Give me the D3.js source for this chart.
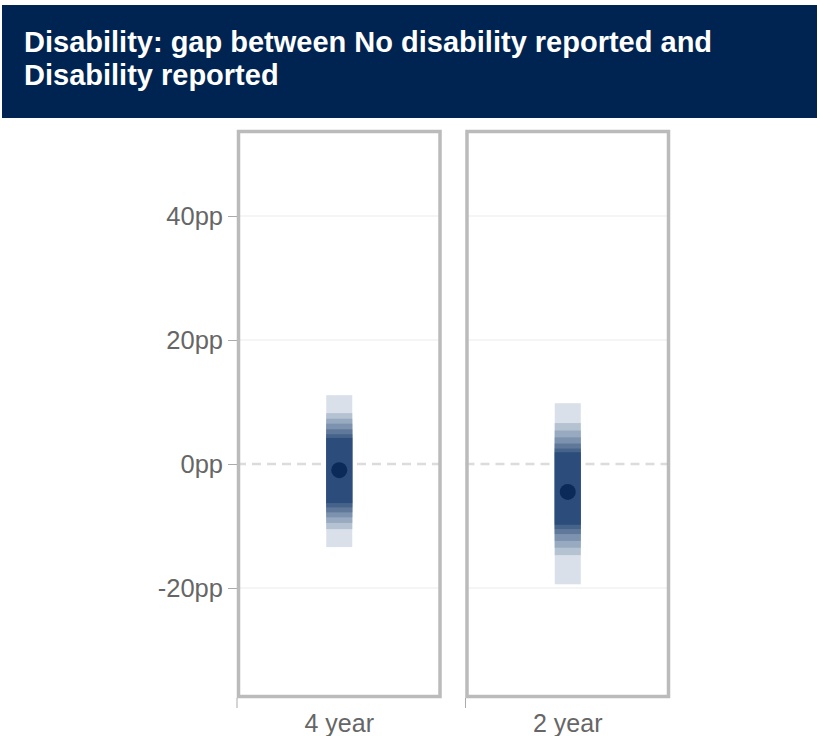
<!DOCTYPE html>
<html>
<head>
<meta charset="utf-8">
<script src="https://cdn.jsdelivr.net/npm/d3@7"></script>
<style>
  body { margin: 0; background: #fff; }
  svg { display: block; font-family: "Liberation Sans", Arial, sans-serif; }
</style>
</head>
<body>
<div id="chart"></div>
<script>
// panels and estimates (pp)
const periods = ['4 year', '2 year'];
const estimates = [-1.0, -4.5];
// interval bounds, outermost first
const lower = [
  [-13.4, -10.5, -9.5, -8.6, -7.8, -7.0, -6.3],
  [-19.4, -14.7, -13.5, -12.4, -11.3, -10.5, -9.8]
];
const upper = [
  [11.1, 8.2, 7.3, 6.5, 5.6, 4.8, 4.2],
  [9.8, 6.6, 5.4, 4.3, 3.3, 2.5, 1.9]
];
const yTicks = [-20, 0, 20, 40];
const bandColors = ['#d9e0e9', '#b4c2d2', '#98aac0', '#7c92ae', '#60799b', '#46638a', '#2c4c7c'];

const W = 820, H = 736;
const svg = d3.select('#chart').append('svg').attr('width', W).attr('height', H);

// title banner
svg.append('rect').attr('x', 2).attr('y', 5).attr('width', 815).attr('height', 113).attr('fill', '#002451');
const title = svg.append('text')
    .attr('fill', '#fff').attr('font-size', 29).attr('font-weight', 'bold');
title.append('tspan').attr('x', 24).attr('y', 52).text('Disability: gap between No disability reported and');
title.append('tspan').attr('x', 24).attr('y', 85).text('Disability reported');

const x = d3.scaleBand().domain(periods).range([237, 670]).paddingInner(0.105);
const y = d3.scaleLinear().domain([-37.5, 53.63]).range([696.5, 131.5]);

// gridlines
periods.forEach(p => {
  const g = svg.append('g');
  g.selectAll('line.grid')
    .data(yTicks.filter(t => t !== 0))
    .join('line')
    .attr('x1', x(p)).attr('x2', x(p) + x.bandwidth())
    .attr('y1', d => y(d)).attr('y2', d => y(d))
    .attr('stroke', '#ebebeb').attr('stroke-width', 1);
  g.append('line')
    .attr('x1', x(p)).attr('x2', x(p) + x.bandwidth())
    .attr('y1', y(0)).attr('y2', y(0))
    .attr('stroke', '#dcdcdc').attr('stroke-width', 2.5).attr('stroke-dasharray', '9,6');
});

// y axis
const yAxis = svg.append('g').attr('transform', `translate(${x(periods[0])},0)`)
    .call(d3.axisLeft(y).tickValues(yTicks).tickSize(9).tickPadding(5).tickFormat(d => d + 'pp'));
yAxis.select('.domain').remove();
yAxis.selectAll('line').attr('stroke', '#aaa');
yAxis.selectAll('text').attr('fill', '#666').attr('font-size', 25.5).attr('dy', '0.35em')
    .attr('font-family', '"Liberation Sans", Arial, sans-serif');

// intervals
periods.forEach((p, i) => {
  const cx = x(p) + x.bandwidth() / 2;
  svg.append('g').selectAll('rect')
    .data(lower[i].map((lo, k) => ({lo, hi: upper[i][k], k})))
    .join('rect')
    .attr('x', cx - 13).attr('width', 26)
    .attr('y', d => y(d.hi)).attr('height', d => y(d.lo) - y(d.hi))
    .attr('fill', d => bandColors[d.k]);
  svg.append('circle').attr('cx', cx).attr('cy', y(estimates[i])).attr('r', 8).attr('fill', '#0b2a5a');
});

// panel borders
svg.selectAll('rect.panel')
  .data(periods)
  .join('rect')
  .attr('class', 'panel')
  .attr('x', d => x(d) + 1.5).attr('y', 131.5)
  .attr('width', x.bandwidth() - 3).attr('height', 565)
  .attr('fill', 'none').attr('stroke', '#bbbbbb').attr('stroke-width', 3.5);

// bottom ticks and labels
svg.selectAll('line.xtick')
  .data(periods)
  .join('line')
  .attr('x1', d => x(d)).attr('x2', d => x(d))
  .attr('y1', 698).attr('y2', 708)
  .attr('stroke', '#aaa');
svg.selectAll('text.xlab')
  .data(periods)
  .join('text')
  .attr('x', d => x(d) + x.bandwidth() / 2).attr('y', 732)
  .attr('text-anchor', 'middle').attr('fill', '#666').attr('font-size', 25)
  .text(d => d);
</script>
</body>
</html>
